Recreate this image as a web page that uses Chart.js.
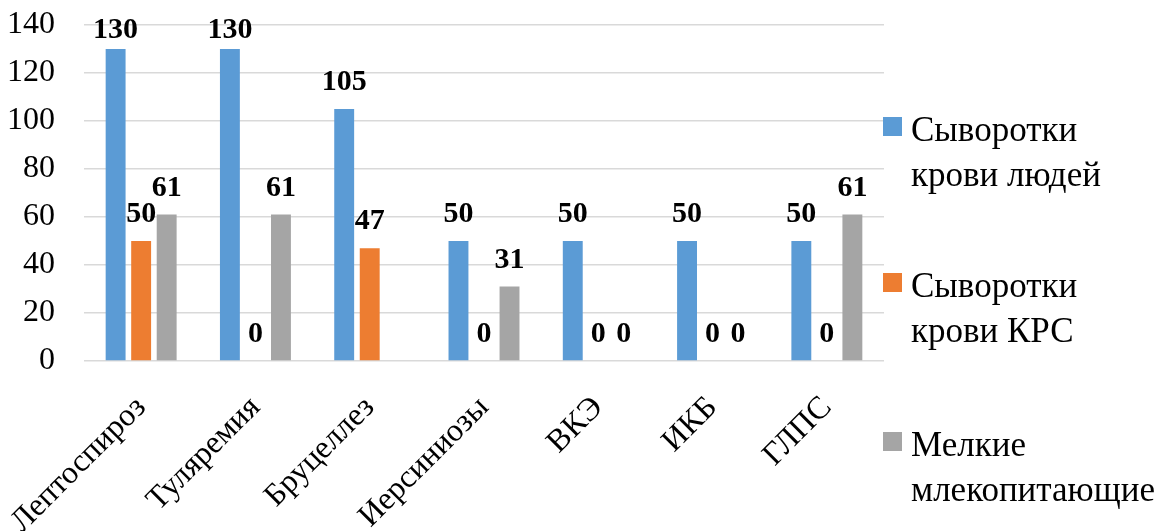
<!DOCTYPE html>
<html>
<head>
<meta charset="utf-8">
<script src="https://cdn.jsdelivr.net/npm/chart.js@4.4.1/dist/chart.umd.min.js"></script>
<style>
    html, body { margin: 0; padding: 0; background: #ffffff; }
    #wrap { position: relative; width: 1171px; height: 531px; overflow: hidden; }
    #legend { position: absolute; left: 883px; top: 0; font-family: 'Liberation Serif', serif; font-size: 35px; line-height: 45px; color: #000; }
    .item { position: absolute; left: 0; white-space: nowrap; }
    .item .box { position: absolute; left: 0; top: 10px; width: 19px; height: 19px; }
    .item .txt { position: absolute; left: 28px; top: 0; }
</style>
</head>
<body>
<div id="wrap">
    <canvas id="chart" width="1171" height="531"></canvas>
    <div id="legend"></div>
</div>
<script>
const categories = ["Лептоспироз", "Туляремия", "Бруцеллез", "Иерсиниозы", "ВКЭ", "ИКБ", "ГЛПС"];
const seriesNames = [["Сыворотки", "крови людей"], ["Сыворотки", "крови КРС"], ["Мелкие", "млекопитающие"]];
const humanSera = [130, 130, 105, 50, 50, 50, 50];
const cattleSera = [50, 0, 47, 0, 0, 0, 0];
const smallMammals = [61, 61, null, 31, 0, 0, 61];
const yTicks = [0, 20, 40, 60, 80, 100, 120, 140];

const COLORS = ["#5B9BD5", "#ED7D31", "#A5A5A5"];
const SERIF = "'Liberation Serif', serif";

// value labels above each bar, kept inside the plot area
const barLabels = {
    id: "barLabels",
    afterDatasetsDraw(chart) {
        const ctx = chart.ctx;
        const top = chart.chartArea.top;
        ctx.save();
        ctx.font = "bold 30px " + SERIF;
        ctx.fillStyle = "#000";
        ctx.textAlign = "center";
        ctx.textBaseline = "alphabetic";
        chart.data.datasets.forEach((ds, i) => {
            chart.getDatasetMeta(i).data.forEach((bar, j) => {
                const v = ds.data[j];
                if (v === null || v === undefined) return;
                const y = Math.max(bar.y - 19, top + 13);
                ctx.fillText(String(v), bar.x, y);
            });
        });
        ctx.restore();
    }
};

function buildLegend() {
    const tops = [107, 263, 422];
    const el = document.getElementById("legend");
    seriesNames.forEach((lines, i) => {
        const item = document.createElement("div");
        item.className = "item";
        item.style.top = tops[i] + "px";
        item.innerHTML = '<span class="box" style="background:' + COLORS[i] + '"></span>' +
            '<span class="txt">' + lines.join("<br>") + "</span>";
        el.appendChild(item);
    });
}

const data = [humanSera, cattleSera, smallMammals];

new Chart(document.getElementById("chart"), {
    type: "bar",
    data: {
        labels: categories,
        datasets: data.map((d, i) => ({
            label: seriesNames[i].join(" "),
            data: d,
            backgroundColor: COLORS[i],
            categoryPercentage: 0.67,
            barPercentage: 0.78
        }))
    },
    options: {
        responsive: false,
        animation: false,
        layout: { padding: { top: 25, right: 287, left: 0, bottom: 0 } },
        plugins: {
            legend: { display: false },
            tooltip: { enabled: false }
        },
        scales: {
            x: {
                grid: { display: false },
                border: { display: false },
                ticks: {
                    color: "#000",
                    font: { family: SERIF, size: 32 },
                    minRotation: 45,
                    maxRotation: 45,
                    padding: 20
                },
                // rotated first label must not push the plot to the right
                afterFit(scale) {
                    scale.height = 170;
                    scale.paddingLeft = 0;
                    scale.paddingRight = 0;
                }
            },
            y: {
                min: 0,
                max: 140,
                grid: { color: "#D9D9D9", lineWidth: 1.5, drawTicks: false },
                border: { display: false },
                afterBuildTicks(scale) { scale.ticks = yTicks.map(v => ({ value: v })); },
                ticks: {
                    color: "#000",
                    font: { family: SERIF, size: 32 },
                    padding: 29
                },
                // tick padding would otherwise push the plot top down
                afterFit(scale) {
                    scale.width = 84;
                    scale.paddingTop = 0;
                    scale.paddingBottom = 0;
                }
            }
        }
    },
    plugins: [barLabels]
});

buildLegend();
</script>
</body>
</html>
